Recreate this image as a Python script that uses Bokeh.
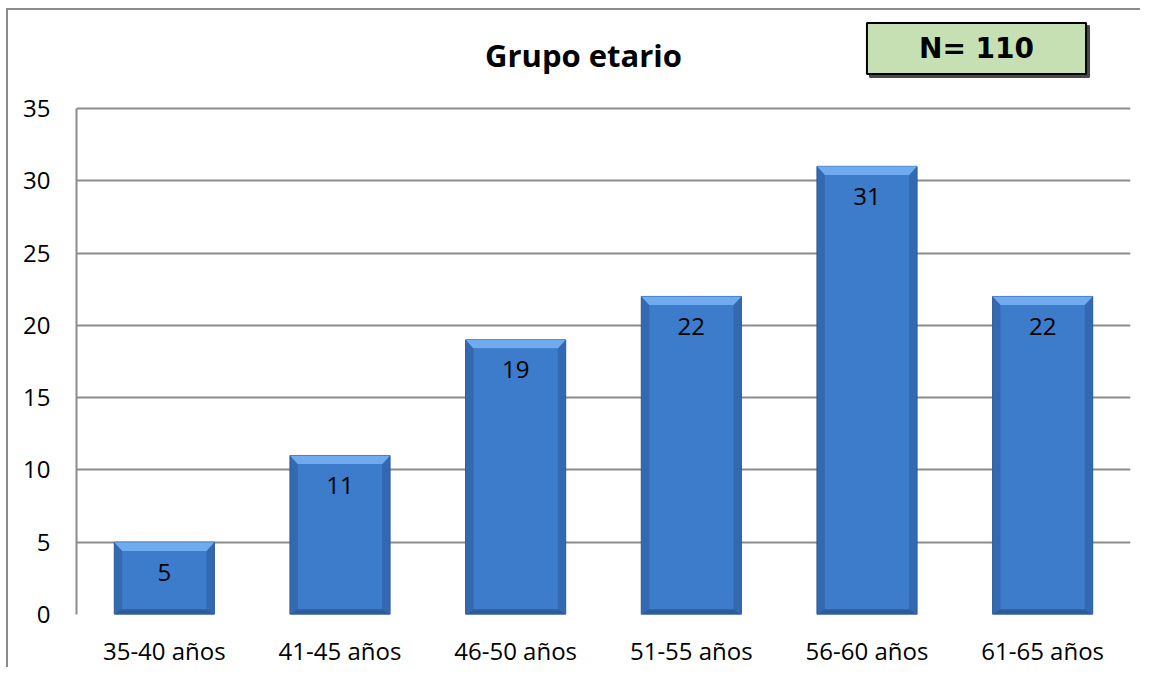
from bokeh.plotting import figure
from bokeh.models import ColumnDataSource, Label, FactorRange, Range1d, FixedTicker
from bokeh.core.properties import value
from bokeh.embed import file_html
from bokeh.resources import INLINE

categories = ["35-40 años", "41-45 años", "46-50 años", "51-55 años", "56-60 años", "61-65 años"]
counts = [5, 11, 19, 22, 31, 22]
y_ticks = [0, 5, 10, 15, 20, 25, 30, 35]
title_text = "Grupo etario"
n_text = "N= 110"

y_max = 35
y_end = y_max * 604 / 506  # extra headroom for title / N box inside frame

p = figure(width=1134, height=659, output_backend="svg", toolbar_location=None,
           x_range=FactorRange(factors=categories, range_padding=0),
           y_range=Range1d(0, y_end),
           min_border_left=68, min_border_right=12, min_border_top=0, min_border_bottom=55,
           margin=(8, 0, 0, 6))
p.styles = {"border-left": "2px solid #8c8c8c", "border-top": "2px solid #8c8c8c"}
p.outline_line_color = None
p.background_fill_color = "white"
p.border_fill_color = "white"

# bars (bevel look)
half = 0.285
bev = 0.045
bevy = 0.6
src = ColumnDataSource(dict(cat=categories, val=counts, lbl=[str(c) for c in counts]))
p.vbar(x="cat", top="val", bottom=0, width=2 * half, source=src,
       fill_color="#3468b0", line_color="#2c5a98", line_width=1)

top_xs, top_ys, bot_xs, bot_ys = [], [], [], []
for c, v in zip(categories, counts):
    top_xs.append([(c, -half), (c, half), (c, half - bev), (c, -half + bev)])
    top_ys.append([v, v, v - bevy, v - bevy])
    bot_xs.append([(c, -half), (c, half), (c, half - bev), (c, -half + bev)])
    bot_ys.append([0, 0, bevy * 0.6, bevy * 0.6])
p.patches(xs=top_xs, ys=top_ys, fill_color="#70abef", line_color=None)
p.patches(xs=bot_xs, ys=bot_ys, fill_color="#2c5c9c", line_color=None)

inner_top = [v - bevy for v in counts]
src2 = ColumnDataSource(dict(cat=categories, top=inner_top))
p.vbar(x="cat", top="top", bottom=bevy * 0.6, width=2 * (half - bev), source=src2,
       fill_color="#3d7bcb", line_color=None)

p.text(x="cat", y="val", text="lbl", source=src, text_align="center", text_baseline="middle",
       y_offset=30, text_font=value("Open Sans"), text_font_size="24px", text_color="black")

# axes
p.xaxis.axis_line_color = None
p.xaxis.major_tick_line_color = None
p.xaxis.major_tick_out = 0
p.xaxis.minor_tick_line_color = None
p.xaxis.major_label_text_font = "Open Sans"
p.xaxis.major_label_text_font_size = "24px"
p.xaxis.major_label_text_color = "black"
p.xaxis.major_label_standoff = 19

p.yaxis.ticker = FixedTicker(ticks=y_ticks)
p.yaxis.bounds = (0, y_max)
p.yaxis.axis_line_color = "#8c8c8c"
p.yaxis.axis_line_width = 2
p.yaxis.major_tick_line_color = None
p.yaxis.major_tick_out = 0
p.yaxis.minor_tick_line_color = None
p.yaxis.major_label_text_font = "Open Sans"
p.yaxis.major_label_text_font_size = "24px"
p.yaxis.major_label_text_color = "black"
p.yaxis.major_label_standoff = 26

p.xgrid.grid_line_color = None
p.ygrid.ticker = FixedTicker(ticks=y_ticks)
p.ygrid.grid_line_color = "#8c8c8c"
p.ygrid.grid_line_width = 2
p.ygrid.level = "underlay"

# title
p.add_layout(Label(x=507, y=560, x_units="screen", y_units="screen", text=title_text,
                   text_align="center", text_baseline="alphabetic",
                   text_font="Open Sans", text_font_style="bold", text_font_size="31px",
                   text_color="black"))

# N box with shadow
p.add_layout(Label(x=903, y=563, x_units="screen", y_units="screen", text=n_text,
                   text_align="center", text_baseline="middle",
                   text_font="DejaVu Sans", text_font_style="bold", text_font_size="28px",
                   text_color="#4a4a4a", background_fill_color="#4a4a4a",
                   border_line_color="#4a4a4a", border_line_width=2,
                   padding=(52, 9)))
p.add_layout(Label(x=900, y=566, x_units="screen", y_units="screen", text=n_text,
                   text_align="center", text_baseline="middle",
                   text_font="DejaVu Sans", text_font_style="bold", text_font_size="28px",
                   text_color="black", background_fill_color="#c6e0b4",
                   border_line_color="black", border_line_width=2,
                   padding=(52, 9)))

open("out.html", "w").write(file_html(p, INLINE))
